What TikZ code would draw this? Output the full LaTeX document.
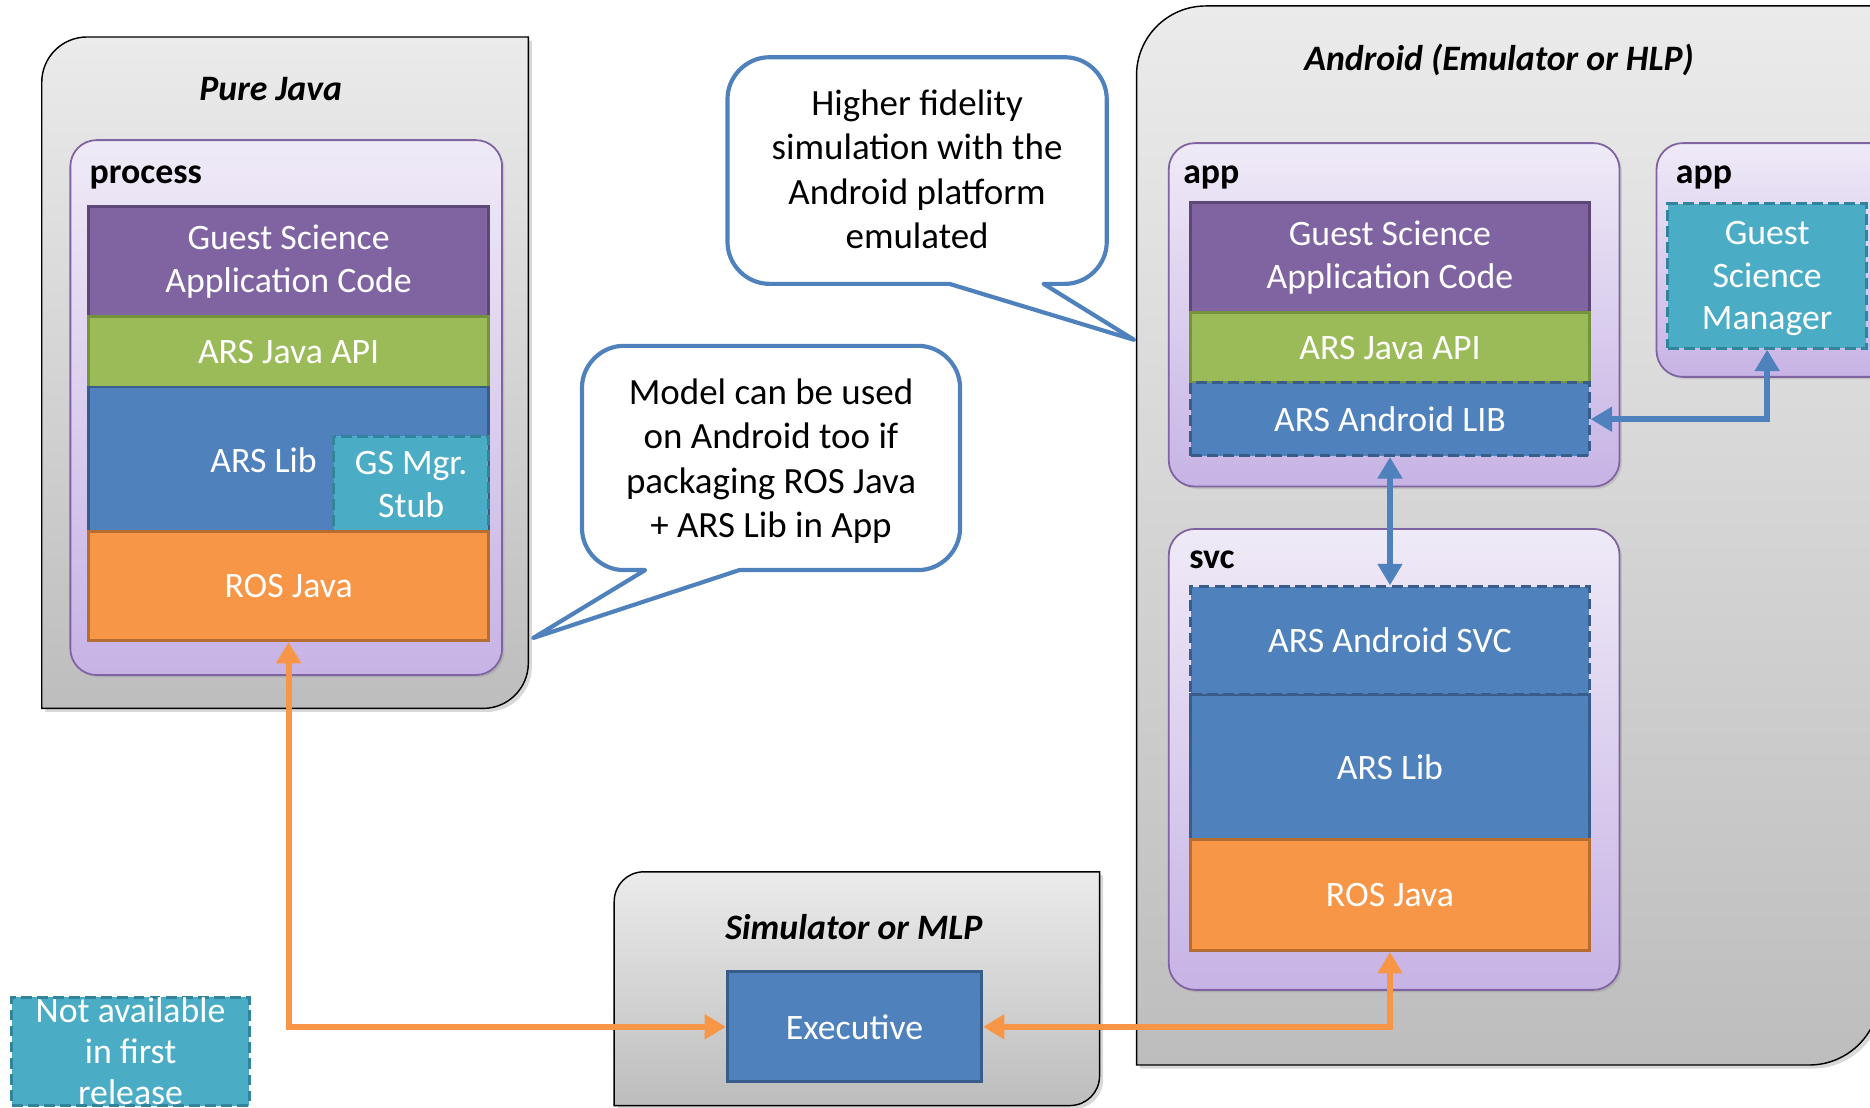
\documentclass[tikz,border=0pt]{standalone}
\usepackage{fontspec}
\setmainfont{Carlito}
\usetikzlibrary{arrows.meta,fit,shadows}

\definecolor{gspurple}{HTML}{8064A2}
\definecolor{gspurpleD}{HTML}{5C4776}
\definecolor{gsgreen}{HTML}{9BBB59}
\definecolor{gsgreenD}{HTML}{76923C}
\definecolor{gsblue}{HTML}{4F81BD}
\definecolor{gsblueD}{HTML}{385D8A}
\definecolor{gsteal}{HTML}{4BACC6}
\definecolor{gstealD}{HTML}{31849B}
\definecolor{gsorange}{HTML}{F79646}
\definecolor{gsorangeD}{HTML}{B66D31}
\definecolor{cntTop}{HTML}{EFEAF7}
\definecolor{cntBot}{HTML}{C7B3E5}
\definecolor{grayTop}{HTML}{EBEBEB}
\definecolor{grayBot}{HTML}{BDBDBD}

\newcommand\layfont{\fontsize{30}{36}\selectfont}
\newcommand\notfont{\fontsize{30}{34.5}\selectfont}
\newcommand\callfont{\fontsize{31}{37.3}\selectfont}
\newcommand\titfont{\fontsize{30}{36}\selectfont\bfseries\itshape}
\newcommand\cntfont{\fontsize{30}{36}\selectfont\bfseries}

\tikzset{
  outerbox/.style={draw=black, line width=1.2pt, top color=grayTop, bottom color=grayBot,
    drop shadow={opacity=0.3, shadow xshift=3pt, shadow yshift=-3pt}},
  cont/.style={draw=gspurple, line width=1.5pt, rounded corners=22pt, top color=cntTop,
    bottom color=cntBot, inner sep=0pt,
    drop shadow={opacity=0.25, shadow xshift=2pt, shadow yshift=-2pt}},
  conttext/.style={anchor=base west, inner sep=0pt, font=\cntfont},
  titletext/.style={anchor=base, inner sep=0pt, font=\titfont},
  layer/.style={inner sep=0pt, line width=2.5pt},
  laytext/.style={text=white, align=center, font=\layfont, inner sep=0pt},
  purplelayer/.style={layer, fill=gspurple, draw=gspurpleD},
  greenlayer/.style={layer, fill=gsgreen, draw=gsgreenD},
  bluelayer/.style={layer, fill=gsblue, draw=gsblueD},
  orangelayer/.style={layer, fill=gsorange, draw=gsorangeD},
  dashedline/.style={dash pattern=on 9pt off 4.5pt},
  bluedashed/.style={bluelayer, dashedline},
  tealdashed/.style={layer, fill=gsteal, draw=gstealD, dashedline},
  calloutshape/.style={draw=gsblue, fill=white, line width=3.5pt, line join=round},
  calltext/.style={align=center, font=\callfont, inner sep=0pt},
  orangearrow/.style={draw=gsorange, line width=5pt, {Triangle[length=18pt,width=20pt]}-{Triangle[length=18pt,width=20pt]}},
  bluearrow/.style={draw=gsblue, line width=5pt, {Triangle[length=18pt,width=20pt]}-{Triangle[length=18pt,width=20pt]}},
}

\begin{document}
\begin{tikzpicture}[x=1pt,y=-1pt]
\useasboundingbox (0,0) rectangle (1568,929);
\fill[white] (0,0) rectangle (1568,929);
\clip (0,0) rectangle (1568,929);

% ---------- outer boxes ----------
\path[outerbox] (35,594) -- (35,69) .. controls (35,48) and (52,31) .. (73,31)
  -- (443,31) -- (443,556) .. controls (443,577) and (426,594) .. (405,594) -- cycle;
\path[outerbox] (953,893) -- (953,63) .. controls (953,31) and (979,5) .. (1011,5)
  -- (1576,5) -- (1576,834) .. controls (1576,866.6) and (1549.6,893) .. (1517,893) -- cycle;
\path[outerbox] (515,927) -- (515,756) .. controls (515,742) and (526,731) .. (540,731)
  -- (922,731) -- (922,902) .. controls (922,916) and (911,927) .. (897,927) -- cycle;

\node[titletext] (tpj) at (227,84) {Pure Java};
\node[titletext] (tand) at (1257,59) {Android (Emulator or HLP)};
\node[titletext] (tsim) at (716,788) {Simulator or MLP};

% ---------- containers ----------
\node[cont, fit={(59,117.5) (421,566)}] (proc) {};
\node[cont, fit={(980,120) (1358,408)}] (app1) {};
\node[cont, fit={(1389,120) (1620,316)}] (app2) {};
\node[cont, fit={(980,443.5) (1358,830)}] (svc) {};

\node[conttext] (lproc) at (75,154) {process};
\node[conttext] (lapp1) at (992,154) {app};
\node[conttext] (lapp2) at (1405,154) {app};
\node[conttext] (lsvc) at (997,477) {svc};

% ---------- Pure Java stack ----------
\node[purplelayer, fit={(74.5,173) (409.5,265.5)},
  label={[laytext, name=pjgst]center:Guest Science\\Application Code}] (pjgs) {};
\node[greenlayer, fit={(74.5,265.5) (409.5,324.5)},
  label={[laytext, name=pjapit]center:ARS Java API}] (pjapi) {};
\node[bluelayer, fit={(74.5,324.5) (409.5,446)},
  label={[laytext, name=pjlibt, xshift=-21pt, yshift=-1pt]center:ARS Lib}] (pjlib) {};
\node[tealdashed, fit={(280,366) (409.5,446)},
  label={[laytext, name=pjstubt]center:GS Mgr.\\Stub}] (pjstub) {};
\node[orangelayer, fit={(74.5,446) (409.5,537)},
  label={[laytext, name=pjrost]center:ROS Java}] (pjros) {};

% ---------- Android app stack ----------
\node[purplelayer, fit={(998.5,170) (1332.5,262)},
  label={[laytext, name=agst]center:Guest Science\\Application Code}] (ags) {};
\node[greenlayer, fit={(998.5,262) (1332.5,321)},
  label={[laytext, name=aapit]center:ARS Java API}] (aapi) {};
\node[bluedashed, fit={(998.5,321) (1332.5,382)},
  label={[laytext, name=alibt]center:ARS Android LIB}] (alib) {};
\node[tealdashed, fit={(1398.5,171) (1565,292)},
  label={[laytext, name=gsmt, yshift=-2pt]center:Guest\\Science\\Manager}] (gsm) {};

% ---------- svc stack ----------
\node[bluelayer, fit={(998.5,582) (1332.5,704)},
  label={[laytext, name=slibt]center:ARS Lib}] (slib) {};
\node[bluedashed, fit={(998.5,492) (1332.5,582)},
  label={[laytext, name=ssvct]center:ARS Android SVC}] (ssvc) {};
\node[orangelayer, fit={(998.5,704) (1332.5,797)},
  label={[laytext, name=srost]center:ROS Java}] (sros) {};

% ---------- Simulator ----------
\node[bluelayer, fit={(610,815) (823,907)},
  label={[laytext, name=exect]center:Executive}] (exec) {};

% ---------- arrows ----------
\draw[orangearrow] (pjros.south) |- (exec.west);
\draw[orangearrow] (sros.south) |- (exec.east);
\draw[bluearrow] (gsm.south) |- (alib.east);
\draw[bluearrow] (alib.south) -- (ssvc.north);

% ---------- callouts ----------
\path[calloutshape] (796,238) -- (951,285) -- (875,238) -- (893,238)
  .. controls (912,238) and (928,222) .. (928,203) -- (928,83)
  .. controls (928,64) and (912,48) .. (893,48) -- (645,48)
  .. controls (626,48) and (610,64) .. (610,83) -- (610,203)
  .. controls (610,222) and (626,238) .. (645,238) -- cycle;
\node[calltext] (c1) at (769,142) {Higher fidelity\\simulation with the\\Android platform\\emulated};

\path[calloutshape] (620,478) -- (447,535) -- (541,478) -- (523,478)
  .. controls (504,478) and (488,462) .. (488,443) -- (488,325)
  .. controls (488,306) and (504,290) .. (523,290) -- (770,290)
  .. controls (789,290) and (805,306) .. (805,325) -- (805,443)
  .. controls (805,462) and (789,478) .. (770,478) -- cycle;
\node[calltext] (c2) at (646.5,386.6) {Model can be used\\on Android too if\\packaging ROS Java\\+ ARS Lib in App};

% ---------- legend ----------
\node[tealdashed, fit={(10,836) (209,927)},
  label={[name=notavt, text=white, font=\notfont, align=center, inner sep=0pt]center:Not available\\in first\\release}] (notav) {};
\end{tikzpicture}
\end{document}
